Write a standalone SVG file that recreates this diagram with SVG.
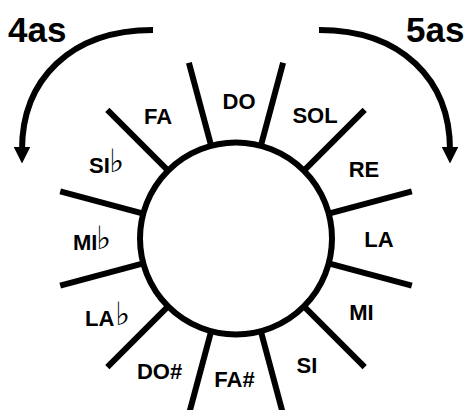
<svg xmlns="http://www.w3.org/2000/svg" width="467" height="410" viewBox="0 0 467 410">
<style>
.lbl{font-family:"Liberation Sans",Arial,sans-serif;font-weight:bold;font-size:22px;fill:#000}
.big{font-family:"Liberation Sans",Arial,sans-serif;font-weight:bold;font-size:35px;fill:#000}
.flat{font-family:"DejaVu Sans",sans-serif;font-weight:normal;font-size:32px;fill:#000}
.spoke{stroke:#000;stroke-width:6;fill:none}
.arc{stroke:#000;stroke-width:6;fill:none}
</style>
<defs>
<marker id="ah" viewBox="0 0 10 10" refX="2" refY="5" markerWidth="2.8" markerHeight="2.8" orient="auto" markerUnits="strokeWidth">
<path d="M0,0 L10,5 L0,10 z" fill="#000"/>
</marker>
</defs>
<rect width="467" height="410" fill="#fff"/>
<g id="connectors">
<path class="arc" d="M153,30 C70,30 22,80 22,150" marker-end="url(#ah)"/>
<path class="arc" d="M319,30 C402,30 450,80 450,150" marker-end="url(#ah)"/>
</g>
<g id="wheel" transform="translate(236,238.5)">
<circle cx="0" cy="0" r="96" fill="#fff" stroke="#000" stroke-width="6"/>
<g id="spokes">
<line class="spoke" x1="95" y1="0" x2="182" y2="0" transform="rotate(15)"/>
<line class="spoke" x1="95" y1="0" x2="182" y2="0" transform="rotate(45)"/>
<line class="spoke" x1="95" y1="0" x2="182" y2="0" transform="rotate(75)"/>
<line class="spoke" x1="95" y1="0" x2="182" y2="0" transform="rotate(105)"/>
<line class="spoke" x1="95" y1="0" x2="182" y2="0" transform="rotate(135)"/>
<line class="spoke" x1="95" y1="0" x2="182" y2="0" transform="rotate(165)"/>
<line class="spoke" x1="95" y1="0" x2="182" y2="0" transform="rotate(195)"/>
<line class="spoke" x1="95" y1="0" x2="182" y2="0" transform="rotate(225)"/>
<line class="spoke" x1="95" y1="0" x2="182" y2="0" transform="rotate(255)"/>
<line class="spoke" x1="95" y1="0" x2="182" y2="0" transform="rotate(285)"/>
<line class="spoke" x1="95" y1="0" x2="182" y2="0" transform="rotate(315)"/>
<line class="spoke" x1="95" y1="0" x2="182" y2="0" transform="rotate(345)"/>
</g>
</g>
<g id="label-4as"><text class="big" x="8" y="42">4as</text></g>
<g id="label-5as"><text class="big" x="406" y="42">5as</text></g>
<g id="n-do"><text class="lbl" x="239" y="109" text-anchor="middle">DO</text></g>
<g id="n-sol"><text class="lbl" x="315" y="123" text-anchor="middle">SOL</text></g>
<g id="n-re"><text class="lbl" x="364" y="177" text-anchor="middle">RE</text></g>
<g id="n-la"><text class="lbl" x="379" y="247" text-anchor="middle">LA</text></g>
<g id="n-mi"><text class="lbl" x="361.5" y="320" text-anchor="middle">MI</text></g>
<g id="n-si"><text class="lbl" x="307" y="373" text-anchor="middle">SI</text></g>
<g id="n-fas"><text class="lbl" x="234.5" y="387" text-anchor="middle">FA#</text></g>
<g id="n-dos"><text class="lbl" x="159.5" y="379" text-anchor="middle">DO#</text></g>
<g id="n-lab"><text class="lbl" x="85" y="326">LA</text><text class="flat" x="115" y="325">♭</text></g>
<g id="n-mib"><text class="lbl" x="73" y="250">MI</text><text class="flat" x="96" y="249">♭</text></g>
<g id="n-sib"><text class="lbl" x="89" y="173">SI</text><text class="flat" x="109" y="172">♭</text></g>
<g id="n-fa"><text class="lbl" x="158" y="124" text-anchor="middle">FA</text></g>
</svg>
